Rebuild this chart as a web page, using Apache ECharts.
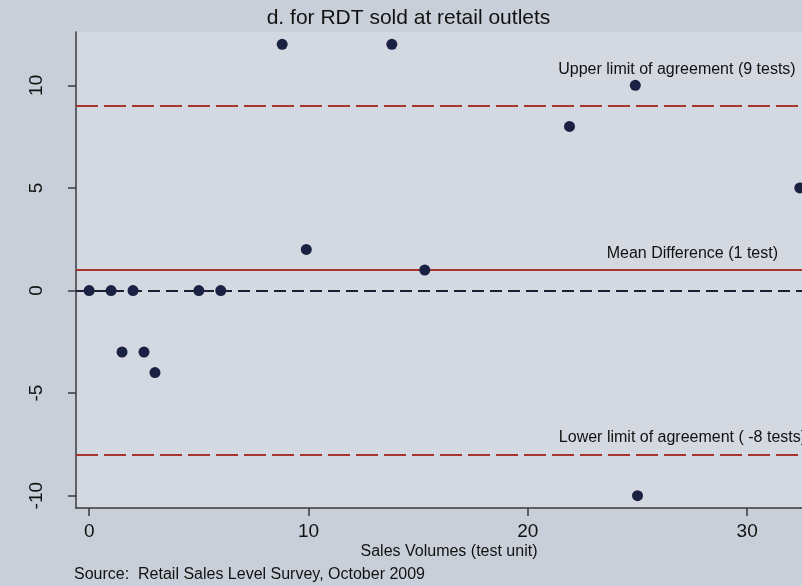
<!DOCTYPE html>
<html>
<head>
<meta charset="utf-8">
<title>RDT sold at retail outlets</title>
<script src="https://cdn.jsdelivr.net/npm/echarts@6/dist/echarts.min.js"></script>
<style>
  html, body { margin: 0; padding: 0; background: #c9cfd9; }
  #chart { width: 802px; height: 586px; }
</style>
</head>
<body>
<div id="chart"></div>
<script>
// Sales volume (test units) and difference in tests for each outlet
const salesVolume = [0, 1, 2, 5, 6, 1.5, 2.5, 3, 8.8, 13.8, 9.9, 15.3, 21.9, 24.9, 25, 32.4];
const difference  = [0, 0, 0, 0, 0, -3, -3, -4, 12, 12, 2, 1, 8, 10, -10, 5];

// Agreement limits (tests)
const upperLimit = 9;
const meanDifference = 1;
const lowerLimit = -8;

// Tick labels
const xTicks = [0, 10, 20, 30];
const yTicks = [-10, -5, 0, 5, 10];

const FONT = 'Liberation Sans, Arial, sans-serif';
const TEXT = '#111111';
const AXIS = '#3a3a3a';
const LIMIT_RED = '#a8342c';

const points = salesVolume.map((x, i) => [x, difference[i]]);

const chart = echarts.init(document.getElementById('chart'), null, { renderer: 'canvas' });

chart.setOption({
  backgroundColor: '#c9cfd9',
  animation: false,
  textStyle: { fontFamily: FONT },
  grid: {
    left: 76, right: 0, top: 32, bottom: 78,
    show: true, backgroundColor: '#d3d8e1', borderWidth: 0
  },
  xAxis: {
    type: 'value',
    min: -0.6, max: 32.5,
    splitLine: { show: false },
    axisLine: { show: true, onZero: false, lineStyle: { color: AXIS, width: 1.5 } },
    axisTick: { show: true, length: 8, customValues: xTicks, lineStyle: { color: AXIS, width: 1.5 } },
    axisLabel: { customValues: xTicks, margin: 14, fontSize: 19, color: TEXT, fontFamily: FONT }
  },
  yAxis: {
    type: 'value',
    min: -10.6, max: 12.6,
    splitLine: { show: false },
    axisLine: { show: true, onZero: false, lineStyle: { color: AXIS, width: 1.5 } },
    axisTick: { show: true, length: 8, customValues: yTicks, lineStyle: { color: AXIS, width: 1.5 } },
    axisLabel: { customValues: yTicks, rotate: 90, margin: 30, fontSize: 19, color: TEXT, fontFamily: FONT }
  },
  series: [
    {
      // reference lines: zero, mean difference and limits of agreement
      type: 'line',
      data: [],
      silent: true,
      markLine: {
        silent: true,
        symbol: ['none', 'none'],
        label: { show: false },
        data: [
          { yAxis: 0, lineStyle: { color: '#1b2035', width: 2, type: [12, 6] } },
          { yAxis: meanDifference, lineStyle: { color: LIMIT_RED, width: 2, type: 'solid' } },
          { yAxis: upperLimit, lineStyle: { color: LIMIT_RED, width: 2, type: [22, 6] } },
          { yAxis: lowerLimit, lineStyle: { color: LIMIT_RED, width: 2, type: [22, 6] } }
        ]
      }
    },
    {
      type: 'scatter',
      data: points,
      symbol: 'circle',
      symbolSize: 11,
      itemStyle: { color: '#1a2142', opacity: 1 },
      z: 5
    }
  ]
});

// Captions for the reference lines, anchored in data coordinates
const captions = [
  { text: 'Upper limit of agreement (' + upperLimit + ' tests)', at: [26.8, 10.75] },
  { text: 'Mean Difference (' + meanDifference + ' test)', at: [27.5, 1.78] },
  { text: 'Lower limit of agreement ( ' + lowerLimit + ' tests)', at: [27.05, -7.15] }
];

const graphics = captions.map(c => {
  const [px, py] = chart.convertToPixel({ gridIndex: 0 }, c.at);
  return {
    type: 'text', x: px, y: py, z: 10,
    style: { text: c.text, font: '16px ' + FONT, fill: TEXT, textAlign: 'center', textVerticalAlign: 'middle' }
  };
});

graphics.push(
  {
    type: 'text', x: 408.5, y: 18,
    style: { text: 'd. for RDT sold at retail outlets', font: '21px ' + FONT, fill: TEXT, textAlign: 'center', textVerticalAlign: 'middle' }
  },
  {
    type: 'text', x: 449, y: 552,
    style: { text: 'Sales Volumes (test unit)', font: '16px ' + FONT, fill: TEXT, textAlign: 'center', textVerticalAlign: 'middle' }
  },
  {
    type: 'text', x: 74, y: 575,
    style: { text: 'Source:  Retail Sales Level Survey, October 2009', font: '16px ' + FONT, fill: TEXT, textAlign: 'left', textVerticalAlign: 'middle' }
  }
);

chart.setOption({ graphic: graphics });
</script>
</body>
</html>
